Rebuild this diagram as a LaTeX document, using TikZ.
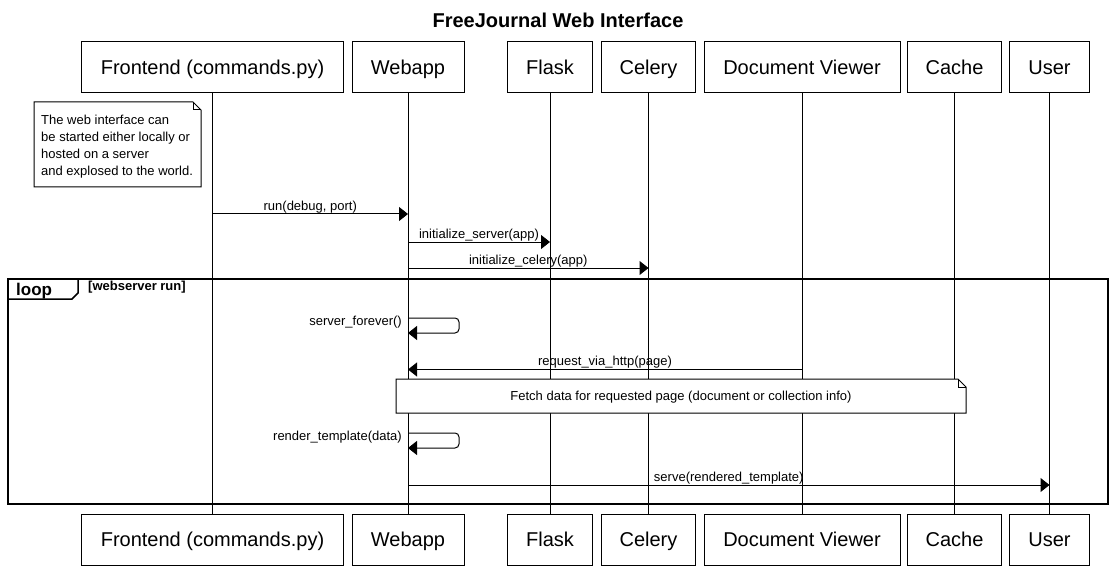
\documentclass[tikz,border=0pt]{standalone}
\usepackage{fontspec}
\setmainfont{Liberation Sans}
\usetikzlibrary{arrows.meta}
\tikzset{
  lifebox/.style = {draw, line width = 1pt, minimum height = 51pt, inner sep = 0pt, text height = 16.5pt, text depth = 3pt, font = \fontsize{20}{24}\selectfont},
  life/.style = {line width = 1pt},
  msg/.style = {line width = 1pt, -{Triangle[length = 9pt, width = 14pt]}},
  lbl/.style = {font = \fontsize{13}{15}\selectfont, inner sep = 0pt, anchor = base},
  notebox/.style = {line width = 1pt, fill = white},
}
\begin{document}
\begin{tikzpicture}[x = 1pt, y = -1pt]
\useasboundingbox (0,0) rectangle (1116,572);
\node[font = \bfseries\fontsize{20}{24}\selectfont, anchor = base] (title) at (558,27.5) {FreeJournal Web Interface};
% participants, top row
\node[lifebox, minimum width = 262pt] (front) at (212.5,67.5) {Frontend (commands.py)};
\node[lifebox, minimum width = 112pt] (web) at (408,67.5) {Webapp};
\node[lifebox, minimum width = 85pt] (flask) at (550,67.5) {Flask};
\node[lifebox, minimum width = 94pt] (celery) at (648.5,67.5) {Celery};
\node[lifebox, minimum width = 196pt] (viewer) at (802,67.5) {Document Viewer};
\node[lifebox, minimum width = 94pt] (cache) at (954.5,67.5) {Cache};
\node[lifebox, minimum width = 80pt] (user) at (1049.5,67.5) {User};
% participants, bottom row
\node[lifebox, minimum width = 262pt] (front-b) at (212.5,539.5) {Frontend (commands.py)};
\node[lifebox, minimum width = 112pt] (web-b) at (408,539.5) {Webapp};
\node[lifebox, minimum width = 85pt] (flask-b) at (550,539.5) {Flask};
\node[lifebox, minimum width = 94pt] (celery-b) at (648.5,539.5) {Celery};
\node[lifebox, minimum width = 196pt] (viewer-b) at (802,539.5) {Document Viewer};
\node[lifebox, minimum width = 94pt] (cache-b) at (954.5,539.5) {Cache};
\node[lifebox, minimum width = 80pt] (user-b) at (1049.5,539.5) {User};
% lifelines
\foreach \p in {front,web,flask,celery,viewer,cache,user}
  \draw[life] (\p.south) -- (\p-b.north);

% note on the left
\draw[notebox] (34,102) -- (193,102) -- (201,110) -- (201,187) -- (34,187) -- cycle;
\draw[line width = 1pt] (193,102) -- (193,110) -- (201,110);
\node[anchor = north west, align = left, inner sep = 0pt, font = \fontsize{13}{17}\selectfont] (startnote) at (41,115)
  {The web interface can\\be started either locally or\\hosted on a server\\and explosed to the world.};

\draw[msg] (front.south |- 0,214) -- node[lbl, yshift = 3.5pt] {run(debug, port)} (web.south |- 0,214);
\draw[msg] (web.south |- 0,242) -- node[lbl, yshift = 4pt] {initialize\_server(app)} (flask.south |- 0,242);
\draw[msg] (web.south |- 0,268) -- node[lbl, yshift = 4pt] {initialize\_celery(app)} (celery.south |- 0,268);

% loop frame
\draw[line width = 1.5pt] (8,279) rectangle (1108,504);
\draw[line width = 1.5pt] (8,299) -- (72,299) -- (78,293) -- (78,279);
\node[font = \bfseries\fontsize{17}{20}\selectfont, anchor = base west, inner sep = 0pt] (loop) at (16,295) {loop};
\node[font = \bfseries\fontsize{13}{15}\selectfont, anchor = base west, inner sep = 0pt] (guard) at (88,290.5) {[webserver run]};

\draw[msg, rounded corners = 4pt] (web.south |- 0,318) -- ++(51,0) -- ++(0,15) -- (web.south |- 0,333);
\node[lbl, anchor = base east] (forever) at (402,325) {server\_forever()};
\draw[msg] (viewer.south |- 0,369.5) -- node[lbl, yshift = 4pt] {request\_via\_http(page)} (web.south |- 0,369.5);

% note across the lifelines
\draw[notebox] (396,379) -- (958,379) -- (966,387) -- (966,413) -- (396,413) -- cycle;
\draw[line width = 1pt] (958,379) -- (958,387) -- (966,387);
\node[lbl, anchor = center] (fetchnote) at (681,397) {Fetch data for requested page (document or collection info)};

\draw[msg, rounded corners = 4pt] (web.south |- 0,433) -- ++(51,0) -- ++(0,15) -- (web.south |- 0,448);
\node[lbl, anchor = base east] (render) at (402,440) {render\_template(data)};
\draw[msg] (web.south |- 0,485) -- node[lbl, yshift = 4pt] {serve(rendered\_template)} (user.south |- 0,485);
\end{tikzpicture}
\end{document}
